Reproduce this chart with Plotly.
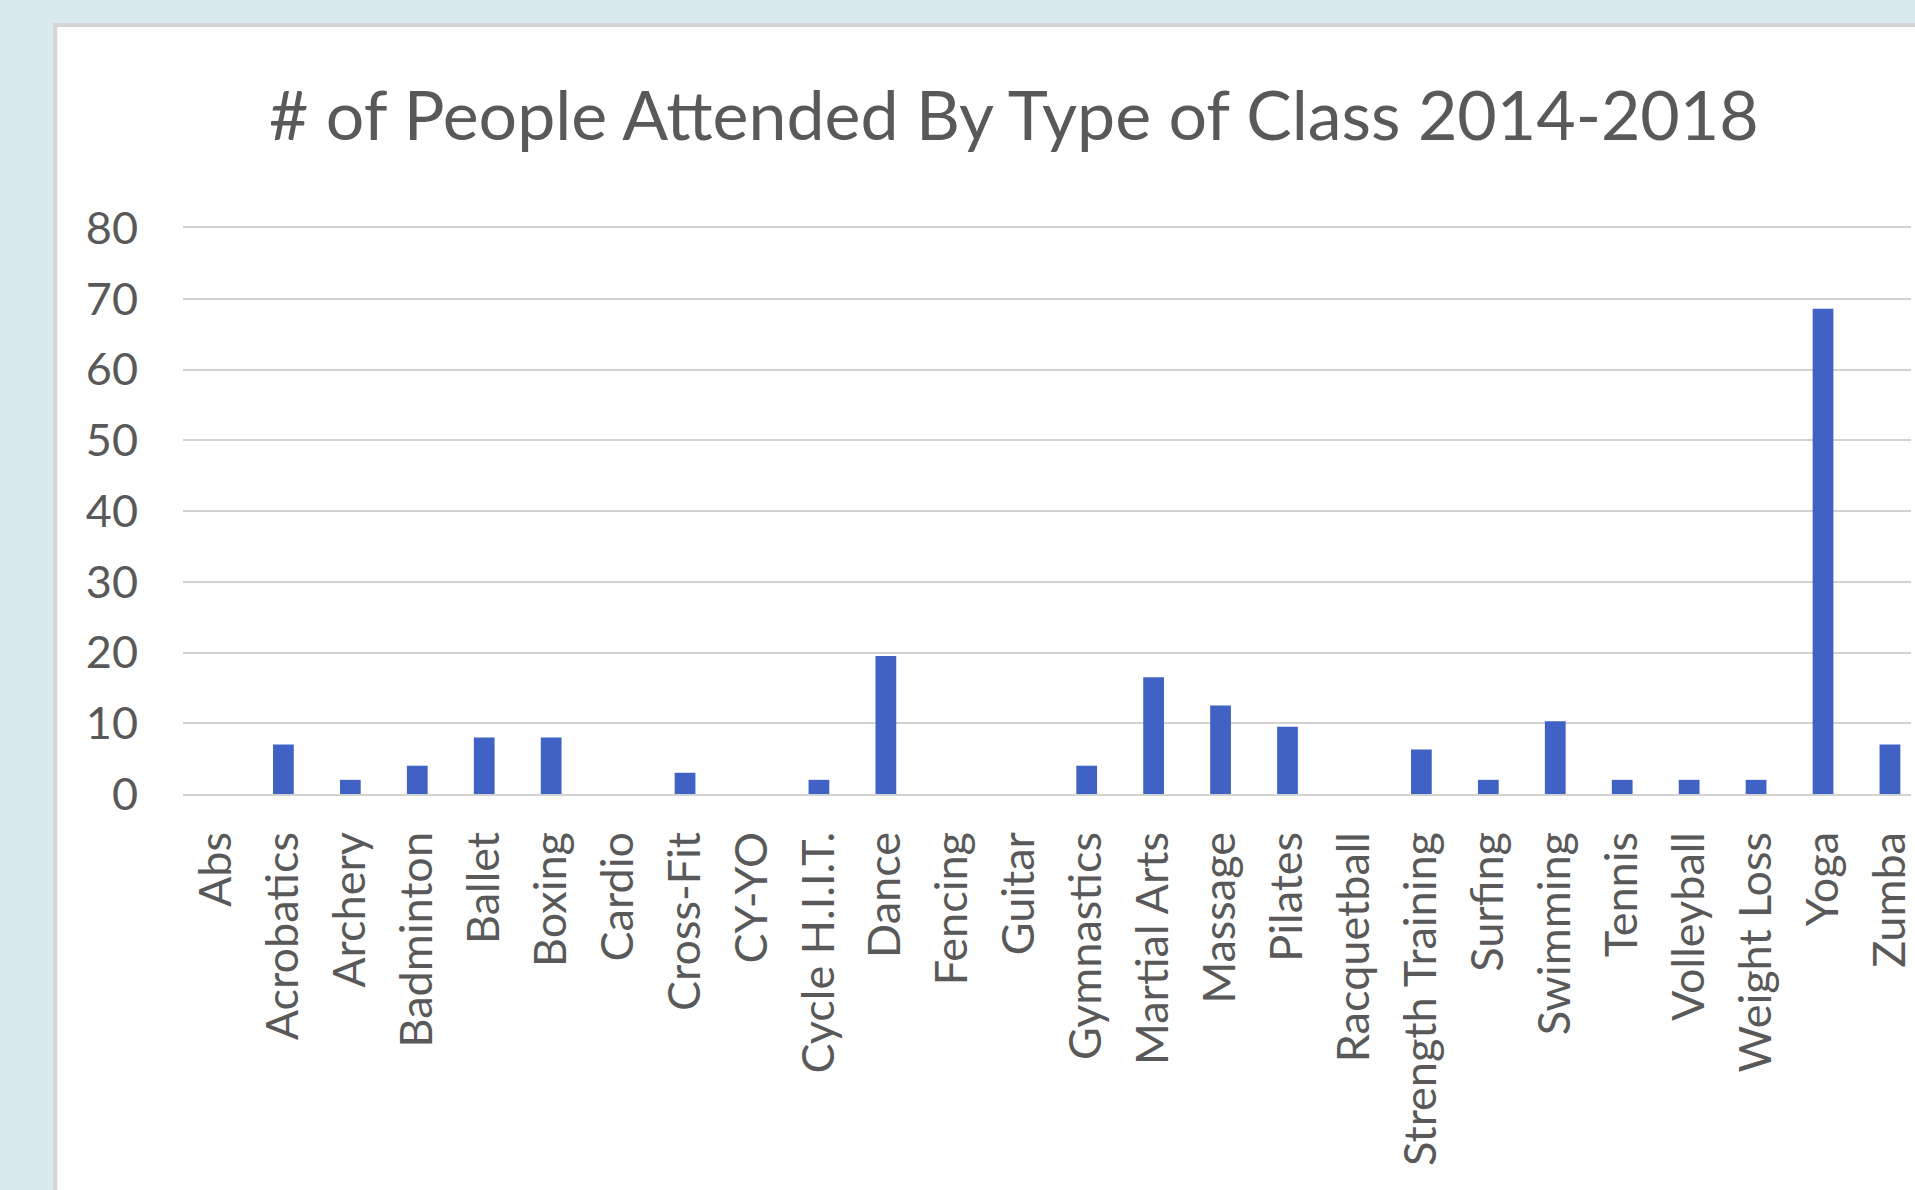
import plotly.graph_objects as go

categories = ["Abs", "Acrobatics", "Archery", "Badminton", "Ballet", "Boxing", "Cardio",
              "Cross-Fit", "CY-YO", "Cycle H.I.I.T.", "Dance", "Fencing", "Guitar",
              "Gymnastics", "Martial Arts", "Massage", "Pilates", "Racquetball",
              "Strength Training", "Surfing", "Swimming", "Tennis", "Volleyball",
              "Weight Loss", "Yoga", "Zumba"]
attendance = [0, 7, 2, 4, 8, 8, 0, 3, 0, 2, 19.5, 0, 0, 4, 16.5, 12.5, 9.5, 0,
              6.3, 2, 10.3, 2, 2, 2, 68.6, 7]
y_ticks = [0, 10, 20, 30, 40, 50, 60, 70, 80]
title_text = "# of People Attended By Type of Class 2014-2018"

W, H = 1915, 1190
L, R, T, B = 183, 1915, 228, 794
pw, ph = R - L, B - T

def px_x(p):
    return (p - L) / pw

def px_y(p):
    return (B - p) / ph

text_color = "#595959"
font_family = "Lato, Carlito, Calibri, sans-serif"

fig = go.Figure(go.Bar(
    x=list(range(len(categories))),
    y=attendance,
    marker=dict(color="#3F62C4", line=dict(width=0)),
    hoverinfo="x+y",
))

fig.update_layout(
    width=W, height=H,
    margin=dict(l=L, r=W - R, t=T, b=H - B, pad=0),
    paper_bgcolor="#DAE9EC",
    plot_bgcolor="rgba(0,0,0,0)",
    bargap=0.69,
    showlegend=False,
    font=dict(family=font_family, color=text_color),
    shapes=[dict(
        type="rect", xref="paper", yref="paper",
        x0=px_x(55), x1=px_x(2100), y0=px_y(1400), y1=px_y(25),
        fillcolor="white", line=dict(color="#D4D4D4", width=4), layer="below",
    )],
    annotations=[dict(
        text=title_text, xref="paper", yref="paper",
        x=px_x(1016), y=px_y(113), xanchor="center", yanchor="middle",
        showarrow=False, font=dict(size=68, color=text_color, family=font_family),
    )],
)

fig.update_xaxes(
    range=[-0.5, (R - 216.4) / 67.1],
    tickmode="array",
    tickvals=list(range(len(categories))),
    ticktext=categories,
    tickangle=-90,
    tickfont=dict(size=45, color=text_color),
    ticks="",
    ticklabelstandoff=18,
    ticklabeloverflow="allow",
    showgrid=False,
    showline=True, mirror=True, linecolor="#D2D2D2", linewidth=2,
    zeroline=False,
)
fig.update_yaxes(
    range=[0, 80],
    tickmode="array",
    tickvals=y_ticks,
    tickfont=dict(size=45, color=text_color),
    ticks="",
    ticklabelstandoff=44,
    showgrid=True, gridcolor="#D2D2D2", gridwidth=2,
    zeroline=False, showline=False,
)

fig.write_html("out.html")
